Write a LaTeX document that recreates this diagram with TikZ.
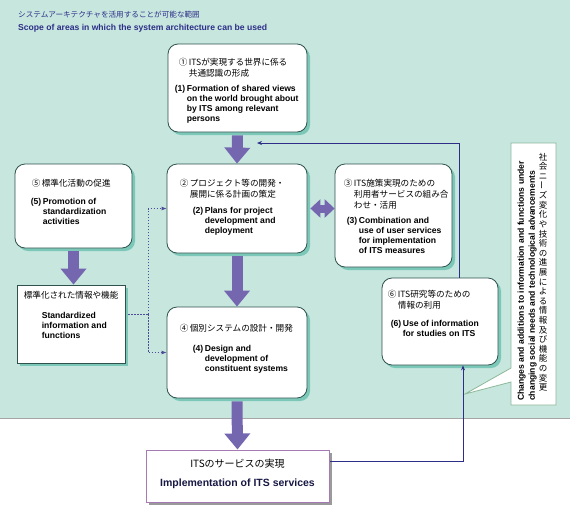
\documentclass[tikz,border=0pt]{standalone}
\usepackage{fontspec}
\setmainfont{Liberation Sans}
\newfontfamily\jp{Noto Sans CJK JP}
\usetikzlibrary{arrows.meta,shadows,positioning}
\definecolor{itsbg}{HTML}{C6E6DE}
\definecolor{boxline}{HTML}{2F524D}
\definecolor{boxshade}{HTML}{7CC8B8}
\definecolor{arrowpurple}{HTML}{7566B0}
\definecolor{navy}{HTML}{2E2E88}
\definecolor{botline}{HTML}{A67AB5}
\definecolor{botshade}{HTML}{9A9A9A}
\definecolor{callline}{HTML}{8DB89A}
\newcommand{\numtab}[1]{\begin{tabular}{@{}l@{\hspace{1.5pt}}l@{}}#1\end{tabular}}
\tikzset{itsbox/.style={draw=boxline, line width=0.8pt, fill=white, rounded corners=10pt,
      drop shadow={shadow xshift=3pt, shadow yshift=-3pt, fill=boxshade, opacity=1}},
    stdbox/.style={draw=boxline, line width=0.8pt, fill=white,
      drop shadow={shadow xshift=3pt, shadow yshift=-3pt, fill=boxshade, opacity=1}},
    botbox/.style={draw=botline, line width=1pt, fill=white,
      drop shadow={shadow xshift=3pt, shadow yshift=-3pt, fill=botshade, opacity=1}},
    jptext/.style={anchor=north west, inner sep=0pt, font=\jp\fontsize{8.6}{11}\selectfont},
    entext/.style={anchor=north west, inner sep=0pt, font=\bfseries\fontsize{8.6}{10}\selectfont},
    bigarrow/.style={draw=arrowpurple, line width=11pt, -{Triangle[length=16pt,width=25pt]}},
    twinarrow/.style={draw=arrowpurple, line width=8pt,
      {Triangle[length=10pt,width=18pt]}-{Triangle[length=10pt,width=18pt]}},
    dotlink/.style={draw=navy!85, line width=0.8pt, dash pattern=on 1.5pt off 1.5pt},
    navylink/.style={draw=navy, line width=0.8pt},
    }

\begin{document}
\begin{tikzpicture}[x=1pt,y=-1pt]
\useasboundingbox (0,0) rectangle (570,509);
\fill[itsbg] (0,0) rectangle (570,418);
\draw[gray!70] (0,418) -- (570,418);
% title
\node[anchor=west, inner sep=0pt, text=navy, font=\jp\fontsize{7.6}{9}\selectfont] (tj) at (18,15) {システムアーキテクチャを活用することが可能な範囲};
\node[anchor=west, inner sep=0pt, text=navy, font=\bfseries\fontsize{8.6}{10}\selectfont] (te) at (18,28) {Scope of areas in which the system architecture can be used};
% boxes
\node[itsbox, minimum width=139pt, minimum height=88pt] (b1) at (237.5,88) {};
\node[itsbox, minimum width=140pt, minimum height=89pt] (b2) at (237,208.5) {};
\node[itsbox, minimum width=117pt, minimum height=103pt] (b3) at (393.5,215.5) {};
\node[itsbox, minimum width=140pt, minimum height=91pt] (b4) at (237,352.5) {};
\node[itsbox, minimum width=117pt, minimum height=84pt] (b5) at (73.5,206) {};
\node[stdbox, minimum width=108pt, minimum height=78pt] (std) at (71,324) {};
\node[itsbox, minimum width=116pt, minimum height=87pt] (b6) at (440,321.5) {};
\node[botbox, minimum width=183pt, minimum height=52pt] (bot) at (237.5,476) {};
% texts
\node[jptext] (t1j) at ([shift={(11,14)}]b1.north west) {\numtab{①&ITSが実現する世界に係る\\&共通認識の形成}};
\node[entext] (t1e) at ([shift={(7,41)}]b1.north west) {\numtab{(1)&Formation of shared views\\&on the world brought about\\&by ITS among relevant\\&persons}};
\node[jptext] (t2j) at ([shift={(13,15)}]b2.north west) {\numtab{②&プロジェクト等の開発・\\&展開に係る計画の策定}};
\node[entext] (t2e) at ([shift={(26,43)}]b2.north west) {\numtab{(2)&Plans for project\\&development and\\&deployment}};
\node[jptext] (t3j) at ([shift={(9,15)}]b3.north west) {\numtab{③&ITS施策実現のための\\&利用者サービスの組み合\\&わせ・活用}};
\node[entext] (t3e) at ([shift={(12,53)}]b3.north west) {\numtab{(3)&Combination and\\&use of user services\\&for implementation\\&of ITS measures}};
\node[jptext] (t4j) at ([shift={(13,17)}]b4.north west) {\numtab{④&個別システムの設計・開発}};
\node[entext] (t4e) at ([shift={(26,38)}]b4.north west) {\numtab{(4)&Design and\\&development of\\&constituent systems}};
\node[jptext] (t5j) at ([shift={(17,15)}]b5.north west) {\numtab{⑤&標準化活動の促進}};
\node[entext] (t5e) at ([shift={(16,34)}]b5.north west) {\numtab{(5)&Promotion of\\&standardization\\&activities}};
\node[jptext] (tsj) at ([shift={(7,6)}]std.north west) {標準化された情報や機能};
\node[entext] (tse) at ([shift={(25,27)}]std.north west) {\begin{tabular}{@{}l@{}}Standardized\\information and\\functions\end{tabular}};
\node[jptext] (t6j) at ([shift={(6,12)}]b6.north west) {\numtab{⑥&ITS研究等のための\\&情報の利用}};
\node[entext] (t6e) at ([shift={(9,42)}]b6.north west) {\numtab{(6)&Use of information\\&for studies on ITS}};
\node[inner sep=0pt, font=\jp\fontsize{10}{12}\selectfont] (tbj) at ([yshift=-14pt]bot.north) {ITSのサービスの実現};
\node[inner sep=0pt, text=navy!50!black, font=\bfseries\fontsize{10.5}{12}\selectfont] (tbe) at ([yshift=-34pt]bot.north) {Implementation of ITS services};
% callout
\draw[callline, fill=white, line width=0.8pt] (511,143) -- (556,143) -- (556,405) -- (511,405)
  -- (511,382) -- (465,394) -- (511,368) -- cycle;
\node[rotate=90, anchor=north west, inner sep=0pt, font=\bfseries\fontsize{8.6}{11}\selectfont] (ce) at (516,401)
  {\begin{tabular}{@{}l@{}}Changes and additions to information and functions under\\changing social needs and technological advancements\end{tabular}};
\node[anchor=north, inner sep=0pt, align=center, font=\jp\fontsize{8.5}{9.6}\selectfont] (cj) at (543,153)
  {社\\会\\ニ\\\rotatebox{90}{ー}\\ズ\\変\\化\\や\\技\\術\\の\\進\\展\\に\\よ\\る\\情\\報\\及\\び\\機\\能\\の\\変\\更};
% arrows
\draw[bigarrow] ([yshift=-3pt]b1.south) -- (b2.north);
\draw[bigarrow] ([yshift=-3pt]b2.south) -- (b4.north);
\draw[bigarrow] ([yshift=-3pt]b4.south) -- (bot.north);
\draw[bigarrow] ([yshift=-3pt]b5.south) -- (b5.south |- std.north);
\draw[twinarrow] ([xshift=3pt]b2.east) -- (b2.east -| b3.west);
% dotted links
\coordinate (dotjoin) at (148,314);
\draw[dotlink] ([shift={(3,-10)}]std.east) -- (dotjoin);
\draw[dotlink, -{Latex[length=5pt,width=4pt]}] (dotjoin) |- (b2.west);
\draw[dotlink, -{Latex[length=5pt,width=4pt]}] (dotjoin) |- (b4.west);
% feedback
\coordinate (fbx) at (459,143);
\coordinate (fbend) at (257,143);
\coordinate (fblow) at (463,461);
\draw[navylink, -{Stealth[length=5pt,width=4pt]}] ([yshift=15pt]bot.east) -- (fblow) -- (fblow |- b6.south);
\draw[navylink, -{Stealth[length=5pt,width=4pt]}] (fbx |- b6.north) -- (fbx) -- (fbend);
\end{tikzpicture}
\end{document}
